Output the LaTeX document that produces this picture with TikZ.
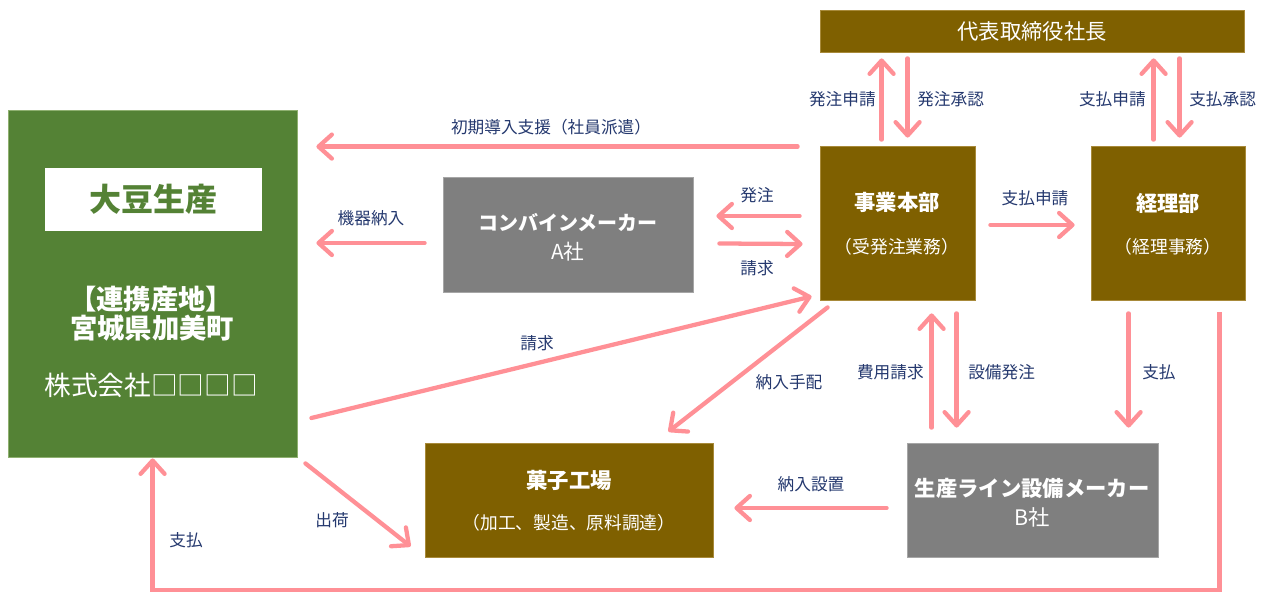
\documentclass[tikz,border=0pt]{standalone}
\usepackage{fontspec}
\setmainfont{Noto Sans CJK JP}
\usetikzlibrary{arrows.meta,calc,fit}
\definecolor{brn}{HTML}{7F6000}
\definecolor{brnb}{HTML}{A88A3A}
\definecolor{grn}{HTML}{548235}
\definecolor{grnb}{HTML}{8FB070}
\definecolor{gry}{HTML}{7F7F7F}
\definecolor{gryb}{HTML}{A6A6A6}
\definecolor{pnk}{HTML}{FF9096}
\definecolor{lbl}{HTML}{24386E}
\tikzset{
  box/.style={inner sep=0pt, line width=0.6pt},
  brownbox/.style={box, fill=brn, draw=brnb},
  greenbox/.style={box, fill=grn, draw=grnb},
  graybox/.style={box, fill=gry, draw=gryb},
  whitebox/.style={box, fill=white, draw=white},
  arr/.style={draw=pnk, line width=3.2pt, -{Straight Barb[length=10pt,width=18pt,round]}, line cap=round},
  lab/.style={text=lbl, font=\fontsize{12.5}{14}\selectfont, inner sep=0pt},
  wtxt/.style={text=white, inner sep=0pt},
}
\begin{document}
\begin{tikzpicture}[x=0.75pt,y=-0.75pt]
\useasboundingbox (0,0) rectangle (1264,592);
% boxes
\node[greenbox, fit={(8,110)(297,457)}] (green) {};
\node[whitebox, fit={(45,168)(261,230)}] (soy) {};
\node[graybox, fit={(443,177)(693,292)}] (A) {};
\node[brownbox, fit={(820,146)(975,300)}] (jigyo) {};
\node[brownbox, fit={(1091,146)(1245,300)}] (keiri) {};
\node[brownbox, fit={(820,10)(1244,52)}] (ceo) {};
\node[brownbox, fit={(425,443)(713,557)}] (kashi) {};
\node[graybox, fit={(907,443)(1158,557)}] (B) {};
% box texts
\node[text=grn, inner sep=0pt, font=\fontsize{24}{28}\selectfont\bfseries] (soyt) at (soy.center) {大豆生産};
\node[wtxt, font=\fontsize{20.5}{22}\selectfont\bfseries] (gt1) at (151,299) {【連携産地】};
\node[wtxt, font=\fontsize{20.5}{22}\selectfont\bfseries] (gt2) at (152,328) {宮城県加美町};
\node[wtxt, font=\fontsize{20}{24}\selectfont] (gt3) at (151,385) {株式会社□□□□};
\node[wtxt, font=\fontsize{16}{19}\selectfont] (ceot) at (ceo.center) {代表取締役社長};
\node[wtxt, font=\fontsize{15}{18}\selectfont\bfseries] (At1) at (568,223) {コンバインメーカー};
\node[wtxt, font=\fontsize{15.5}{18}\selectfont] (At2) at (568,252) {A社};
\node[wtxt, font=\fontsize{16}{19}\selectfont\bfseries] (jt1) at (897,202) {事業本部};
\node[wtxt, font=\fontsize{13.3}{16}\selectfont] (jt2) at (897,247) {（受発注業務）};
\node[wtxt, font=\fontsize{16}{19}\selectfont\bfseries] (kt1) at (1168,203) {経理部};
\node[wtxt, font=\fontsize{13.3}{16}\selectfont] (kt2) at (1168,247) {（経理事務）};
\node[wtxt, font=\fontsize{16}{19}\selectfont\bfseries] (ft1) at (569,480) {菓子工場};
\node[wtxt, font=\fontsize{13.3}{16}\selectfont] (ft2) at (569,523) {（加工、製造、原料調達）};
\node[wtxt, font=\fontsize{16}{19}\selectfont\bfseries] (bt1) at (1032,488) {生産ライン設備メーカー};
\node[wtxt, font=\fontsize{16}{19}\selectfont] (bt2) at (1032,517) {B社};
% arrows
\draw[arr] ($(jigyo.north west)+(62,-6)$) -- ($(ceo.south west)+(62,6)$);
\draw[arr] ($(ceo.south west)+(88,6)$) -- ($(jigyo.north west)+(88,-8)$);
\draw[arr] ($(keiri.north west)+(63,-6)$) -- ($(keiri.north west |- ceo.south)+(63,6)$);
\draw[arr] ($(keiri.north west |- ceo.south)+(89,6)$) -- ($(keiri.north west)+(89,-8)$);
\draw[arr] ($(jigyo.north west)+(-22,1)$) -- ($(green.north east)+(19,37)$);
\draw[arr] ($(jigyo.west)+(-20,-7)$) -- ($(A.east)+(23,-18.5)$);
\draw[arr] ($(A.east)+(26,9)$) -- ($(jigyo.west)+(-17,21)$);
\draw[arr] ($(A.west)+(-18,8.5)$) -- ($(green.east)+(19,-40.5)$);
\draw[arr] ($(jigyo.east)+(15,2)$) -- ($(keiri.west)+(-16,2)$);
\draw[arr] ($(green.east)+(14,134.5)$) -- ($(jigyo.south west)+(-8,-4)$);
\draw[arr] ($(jigyo.south west)+(8,7)$) -- ($(kashi.north east)+(-45,-11)$);
\draw[arr] ($(green.south east)+(8,6)$) -- ($(kashi.south west)+(-14,-11)$);
\draw[arr] ($(B.north west)+(25,-15)$) -- ($(jigyo.south west)+(112,13)$);
\draw[arr] ($(jigyo.south west)+(137,13)$) -- ($(B.north west)+(50,-15)$);
\draw[arr] ($(keiri.south west)+(38,13)$) -- ($(B.north west)+(222,-15)$);
\draw[arr] ($(B.west)+(-20,8)$) -- ($(kashi.east)+(21,8)$);
\coordinate (corner) at ($(keiri.south east)+(-26,290)$);
\draw[arr, line cap=butt] ($(keiri.south east)+(-26,12)$) -- (corner) -| ($(green.south west)+(145,1)$);
% labels
\node[lab, anchor=east] (l1) at (876,99) {発注申請};
\node[lab, anchor=west] (l2) at (917,99) {発注承認};
\node[lab, anchor=east] (l3) at (1146,99) {支払申請};
\node[lab, anchor=west] (l4) at (1189,99) {支払承認};
\node[lab] (l5) at (551,127) {初期導入支援（社員派遣）};
\node[lab] (l6) at (757,195) {発注};
\node[lab] (l7) at (757,268) {請求};
\node[lab] (l8) at (371,218) {機器納入};
\node[lab] (l9) at (1035,198) {支払申請};
\node[lab] (l10) at (537,343) {請求};
\node[lab] (l11) at (789,382) {納入手配};
\node[lab] (l12) at (332,520) {出荷};
\node[lab, anchor=east] (l13) at (924,372) {費用請求};
\node[lab, anchor=west] (l14) at (968,372) {設備発注};
\node[lab, anchor=west] (l15) at (1142,372) {支払};
\node[lab] (l16) at (811,484) {納入設置};
\node[lab] (l17) at (186,540) {支払};
\end{tikzpicture}
\end{document}
